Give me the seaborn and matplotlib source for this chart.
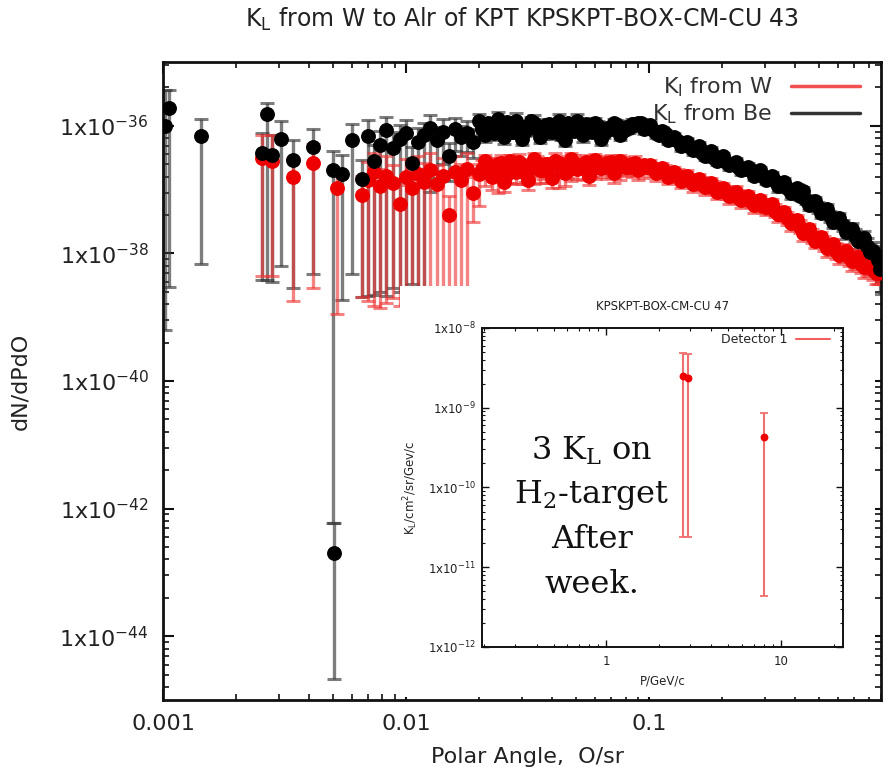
import numpy as np
import pandas as pd
import matplotlib
matplotlib.use("Agg")
import matplotlib.pyplot as plt
import matplotlib.ticker as mticker
from matplotlib.lines import Line2D
import seaborn as sns

# ------------------------------------------------------------------
# DATA (main plot) -- values stored as log10 exponents, errors in decades
# ------------------------------------------------------------------
be_early_x = [0.00102, 0.00106, 0.00143, 0.00255, 0.00268, 0.00281, 0.00306,
              0.00343, 0.00414, 0.00501, 0.00503, 0.00545, 0.00600]
be_early_log = [-36.00, -35.72, -36.16, -36.42, -35.81, -36.45, -36.20,
                -36.53, -36.33, -36.70, -42.70, -36.75, -36.22]
be_early_lo = [3.2, 2.8, 2.01, 2.0, 2.6, 2.0, 1.99, 2.02, 2.0, 5.53, 1.97, 1.98, 2.1]
be_early_hi = [0.56, 0.28, 0.27, 0.30, 0.17, 0.30, 0.28, 0.30, 0.28, 0.30, 0.47, 0.30, 0.25]

w_early_x = [0.00255, 0.00281, 0.00343, 0.00414, 0.00520]
w_early_log = [-36.50, -36.55, -36.80, -36.58, -36.97]
w_early_lo = [1.85, 1.80, 1.95, 1.97, 1.98]
w_early_hi = [0.36, 0.40, 0.30, 0.30, 0.30]

dense_x = [0.0066, 0.0070, 0.0074, 0.0078, 0.0083, 0.0088, 0.0094, 0.0100, 0.0106, 0.0112,
           0.0119, 0.0126, 0.0134, 0.0142, 0.0150, 0.0159, 0.0168, 0.0178, 0.0189, 0.0200,
           0.0212, 0.0225, 0.0238, 0.0252, 0.0267, 0.0283, 0.0300, 0.0318, 0.0337, 0.0357,
           0.0378, 0.0400, 0.0424, 0.0449, 0.0476, 0.0504, 0.0534, 0.0566, 0.0600, 0.0636,
           0.0674, 0.0714, 0.0756, 0.0801, 0.0849, 0.0900, 0.0954, 0.101, 0.107, 0.113,
           0.120, 0.127, 0.135, 0.143, 0.151, 0.160, 0.170, 0.180, 0.191, 0.202,
           0.214, 0.227, 0.240, 0.255, 0.270, 0.286, 0.303, 0.321, 0.340, 0.360,
           0.382, 0.405, 0.429, 0.454, 0.481, 0.510, 0.540, 0.573, 0.607, 0.643,
           0.681, 0.722, 0.765, 0.810, 0.858, 0.890]

be_dense_log = [-36.83, -36.16, -36.55, -36.30, -36.06, -36.35, -36.20, -36.11, -36.58, -36.25,
                -36.15, -36.03, -36.22, -36.10, -36.47, -36.05, -36.18, -36.11, -36.25, -35.93,
                -36.15, -36.00, -35.90, -36.18, -36.05, -35.92, -36.20, -36.02, -35.95, -36.17,
                -35.98, -36.10, -35.93, -36.22, -36.00, -35.92, -36.15, -36.05, -35.95, -36.20,
                -36.03, -35.96, -36.14, -36.02, -35.97, -35.95, -36.05, -35.98, -36.12, -36.08,
                -36.22, -36.18, -36.32, -36.25, -36.38, -36.32, -36.47, -36.40, -36.55, -36.48,
                -36.62, -36.56, -36.70, -36.64, -36.78, -36.70, -36.85, -36.78, -36.95, -36.88,
                -37.06, -36.98, -37.02, -37.24, -37.18, -37.36, -37.30, -37.50, -37.44, -37.66,
                -37.62, -37.80, -37.76, -37.98, -38.02, -38.25]
be_dense_lo = [1.85, 2.50, 2.10, 2.30, 2.60, 2.20, 2.40, 2.50, 1.90, 2.30,
               2.40, 1.00, 0.60, 0.50, 0.40, 0.35, 0.30, 0.30, 0.25, 0.12,
               0.10, 0.12, 0.15, 0.10, 0.12, 0.14, 0.10, 0.12, 0.15, 0.10,
               0.12, 0.10, 0.14, 0.10, 0.12, 0.15, 0.10, 0.12, 0.10, 0.10,
               0.10, 0.08, 0.08, 0.09, 0.08, 0.08, 0.08, 0.07, 0.07, 0.07,
               0.07, 0.07, 0.07, 0.07, 0.07, 0.07, 0.07, 0.07, 0.07, 0.07,
               0.07, 0.07, 0.07, 0.07, 0.07, 0.07, 0.07, 0.07, 0.08, 0.08,
               0.08, 0.08, 0.08, 0.08, 0.09, 0.09, 0.10, 0.10, 0.11, 0.11,
               0.12, 0.13, 0.15, 0.18, 0.22, 0.38]
be_dense_hi = [0.30, 0.25, 0.25, 0.22, 0.20, 0.25, 0.22, 0.20, 0.25, 0.22,
               0.20, 0.20, 0.20, 0.20, 0.20, 0.18, 0.18, 0.18, 0.18, 0.12,
               0.09, 0.10, 0.12, 0.08, 0.10, 0.12, 0.07, 0.10, 0.12, 0.07,
               0.09, 0.07, 0.11, 0.07, 0.08, 0.10, 0.07, 0.08, 0.07, 0.07,
               0.07, 0.07, 0.07, 0.07, 0.07, 0.07, 0.07, 0.06, 0.06, 0.06,
               0.06, 0.06, 0.06, 0.06, 0.06, 0.06, 0.06, 0.06, 0.06, 0.06,
               0.06, 0.06, 0.06, 0.06, 0.06, 0.06, 0.06, 0.06, 0.06, 0.06,
               0.06, 0.06, 0.06, 0.07, 0.07, 0.07, 0.08, 0.08, 0.08, 0.09,
               0.09, 0.10, 0.11, 0.12, 0.14, 0.18]

w_dense_log = [-37.08, -36.85, -36.72, -36.95, -36.78, -36.90, -37.23, -36.80, -36.97, -36.75,
               -36.88, -36.70, -36.92, -36.78, -37.40, -36.72, -36.85, -36.68, -37.05, -36.75,
               -36.55, -36.80, -36.60, -36.88, -36.55, -36.72, -36.62, -36.85, -36.52, -36.70,
               -36.60, -36.82, -36.58, -36.74, -36.52, -36.68, -36.60, -36.78, -36.54, -36.66,
               -36.58, -36.74, -36.55, -36.64, -36.60, -36.70, -36.62, -36.62, -36.74, -36.66,
               -36.80, -36.72, -36.86, -36.78, -36.92, -36.84, -36.96, -36.90, -37.03, -36.97,
               -37.10, -37.03, -37.17, -37.10, -37.24, -37.16, -37.28, -37.22, -37.38, -37.35,
               -37.53, -37.48, -37.68, -37.62, -37.80, -37.74, -37.92, -37.86, -38.02, -37.96,
               -38.12, -38.06, -38.22, -38.16, -38.30, -38.28]
w_dense_lo = [1.60, 1.90, 2.10, 1.90, 2.00, 1.80, 1.60, 2.00, 1.80, 2.00,
              1.90, 2.00, 1.80, 1.90, 1.20, 1.90, 1.80, 1.90, 0.45, 0.50,
              0.40, 0.20, 0.45, 0.15, 0.35, 0.20, 0.30, 0.15, 0.40, 0.20,
              0.30, 0.15, 0.40, 0.20, 0.35, 0.15, 0.25, 0.15, 0.30, 0.15,
              0.25, 0.15, 0.30, 0.15, 0.20, 0.15, 0.20, 0.12, 0.12, 0.12,
              0.12, 0.12, 0.12, 0.12, 0.12, 0.12, 0.12, 0.12, 0.12, 0.12,
              0.12, 0.12, 0.12, 0.12, 0.12, 0.12, 0.12, 0.12, 0.12, 0.12,
              0.12, 0.12, 0.12, 0.12, 0.12, 0.12, 0.13, 0.13, 0.14, 0.14,
              0.15, 0.15, 0.16, 0.17, 0.18, 0.20]
w_dense_hi = [0.30, 0.28, 0.30, 0.28, 0.30, 0.28, 0.30, 0.28, 0.30, 0.28,
              0.30, 0.28, 0.30, 0.28, 0.30, 0.25, 0.25, 0.25, 0.25, 0.15,
              0.10, 0.12, 0.10, 0.12, 0.10, 0.12, 0.10, 0.12, 0.10, 0.12,
              0.10, 0.12, 0.10, 0.12, 0.10, 0.10, 0.10, 0.10, 0.10, 0.10,
              0.10, 0.10, 0.09, 0.09, 0.09, 0.09, 0.09, 0.08, 0.08, 0.08,
              0.08, 0.08, 0.08, 0.08, 0.08, 0.08, 0.08, 0.08, 0.08, 0.08,
              0.08, 0.08, 0.08, 0.08, 0.08, 0.08, 0.08, 0.08, 0.08, 0.08,
              0.08, 0.08, 0.08, 0.08, 0.08, 0.08, 0.09, 0.09, 0.09, 0.10,
              0.10, 0.11, 0.12, 0.13, 0.14, 0.16]

# interleaved bins (finer sampling above 0.02)
fine_x = [0.0206, 0.0218, 0.0231, 0.0245, 0.0260, 0.0275, 0.0291, 0.0309, 0.0327, 0.0347,
          0.0367, 0.0389, 0.0412, 0.0436, 0.0462, 0.0490, 0.0519, 0.0550, 0.0583, 0.0618,
          0.0655, 0.0694, 0.0735, 0.0778, 0.0825, 0.0874, 0.0927, 0.0982, 0.104, 0.110,
          0.116, 0.123, 0.131, 0.139, 0.147, 0.155, 0.165, 0.175, 0.185, 0.196,
          0.208, 0.220, 0.233, 0.247, 0.262, 0.278, 0.294, 0.312, 0.330, 0.350,
          0.371, 0.393, 0.417, 0.441, 0.468, 0.495, 0.525, 0.556, 0.590, 0.625,
          0.662, 0.701, 0.743, 0.787, 0.834, 0.874]
be_fine_log = [-36.05, -35.95, -36.12, -36.02, -35.94, -36.10, -36.00, -36.08, -35.93, -36.05,
               -36.12, -35.97, -36.06, -36.14, -35.96, -36.08, -36.03, -35.97, -36.10, -36.00,
               -36.12, -36.05, -35.98, -36.08, -36.04, -35.98, -35.96, -36.02, -36.06, -36.14,
               -36.12, -36.20, -36.24, -36.28, -36.34, -36.36, -36.42, -36.45, -36.50, -36.52,
               -36.56, -36.60, -36.64, -36.68, -36.70, -36.75, -36.78, -36.82, -36.86, -36.92,
               -36.98, -37.04, -37.10, -37.16, -37.22, -37.28, -37.34, -37.42, -37.48, -37.56,
               -37.64, -37.72, -37.78, -37.88, -37.96, -38.10]
be_fine_err = [0.09, 0.07, 0.10, 0.08, 0.07, 0.09, 0.07, 0.08, 0.07, 0.08,
               0.08, 0.07, 0.07, 0.08, 0.07, 0.07, 0.07, 0.07, 0.07, 0.07,
               0.07, 0.07, 0.07, 0.07, 0.07, 0.07, 0.06, 0.06, 0.06, 0.06,
               0.06, 0.06, 0.06, 0.06, 0.06, 0.06, 0.06, 0.06, 0.06, 0.06,
               0.06, 0.06, 0.06, 0.06, 0.06, 0.06, 0.06, 0.06, 0.06, 0.06,
               0.06, 0.07, 0.07, 0.07, 0.07, 0.08, 0.08, 0.08, 0.09, 0.09,
               0.10, 0.10, 0.11, 0.12, 0.14, 0.18]
w_fine_log = [-36.68, -36.62, -36.72, -36.58, -36.76, -36.64, -36.56, -36.74, -36.66, -36.60,
              -36.70, -36.62, -36.55, -36.66, -36.70, -36.58, -36.64, -36.56, -36.68, -36.60,
              -36.64, -36.56, -36.66, -36.60, -36.64, -36.58, -36.64, -36.64, -36.68, -36.70,
              -36.72, -36.75, -36.78, -36.82, -36.85, -36.88, -36.91, -36.94, -36.97, -37.00,
              -37.04, -37.07, -37.11, -37.14, -37.18, -37.22, -37.25, -37.28, -37.33, -37.38,
              -37.45, -37.50, -37.58, -37.65, -37.72, -37.78, -37.84, -37.90, -37.96, -38.00,
              -38.06, -38.10, -38.16, -38.20, -38.26, -38.30]
w_fine_err = [0.14, 0.12, 0.15, 0.12, 0.14, 0.12, 0.12, 0.14, 0.12, 0.12,
              0.13, 0.12, 0.12, 0.13, 0.12, 0.12, 0.12, 0.11, 0.12, 0.11,
              0.11, 0.11, 0.11, 0.11, 0.11, 0.10, 0.10, 0.10, 0.10, 0.10,
              0.10, 0.10, 0.10, 0.10, 0.10, 0.10, 0.10, 0.10, 0.10, 0.10,
              0.10, 0.10, 0.10, 0.10, 0.10, 0.10, 0.10, 0.10, 0.10, 0.10,
              0.10, 0.10, 0.10, 0.11, 0.11, 0.11, 0.12, 0.12, 0.12, 0.13,
              0.13, 0.14, 0.14, 0.15, 0.16, 0.18]

main_title = "K$_\\mathregular{L}$ from W to Alr of KPT KPSKPT-BOX-CM-CU 43"
series_labels = ["K$_\\mathregular{l}$ from W", "K$_\\mathregular{L}$ from Be"]
y_major_exp = [-44, -42, -40, -38, -36]
x_major = [0.001, 0.01, 0.1]
x_major_labels = ["0.001", "0.01", "0.1"]

# ------------------------------------------------------------------
# DATA (inset)
# ------------------------------------------------------------------
inset_p = [2.76, 2.93, 8.0]
inset_val = [2.5e-9, 2.35e-9, 4.3e-10]
inset_low = [2.4e-11, 2.4e-11, 4.3e-12]
inset_high = [4.9e-9, 4.75e-9, 8.5e-10]
inset_y_exp = [-12, -11, -10, -9, -8]
inset_title = "KPSKPT-BOX-CM-CU 47"
inset_label = "Detector 1"
note_lines = ["3 K$_\\mathregular{L}$ on", "H$_\\mathregular{2}$-target", "After", "week."]

for arr in (be_dense_log, be_dense_lo, be_dense_hi, w_dense_log, w_dense_lo, w_dense_hi):
    assert len(arr) == len(dense_x), len(arr)
for arr in (be_fine_log, be_fine_err, w_fine_log, w_fine_err):
    assert len(arr) == len(fine_x), len(arr)


def build(xs, logs, lo, hi):
    xs = np.asarray(xs, float)
    logs = np.asarray(logs, float)
    y = 10.0 ** logs
    ylo = y - 10.0 ** (logs - np.asarray(lo, float))
    yhi = 10.0 ** (logs + np.asarray(hi, float)) - y
    return pd.DataFrame({"x": xs, "y": y, "elo": ylo, "ehi": yhi})


be_df = build(be_early_x + dense_x + fine_x, be_early_log + be_dense_log + be_fine_log,
              be_early_lo + be_dense_lo + be_fine_err, be_early_hi + be_dense_hi + be_fine_err)
w_df = build(w_early_x + dense_x + fine_x, w_early_log + w_dense_log + w_fine_log,
             w_early_lo + w_dense_lo + w_fine_err, w_early_hi + w_dense_hi + w_fine_err)

# ------------------------------------------------------------------
sns.set_style("ticks")
plt.rcParams["font.family"] = ["DejaVu Sans"]
plt.rcParams["mathtext.fontset"] = "dejavusans"
TXT = "#222222"

W, H = 888, 782
fig = plt.figure(figsize=(W / 100, H / 100), dpi=100)
fig.patch.set_facecolor("white")


def frac(x0, y0, x1, y1):
    return [x0 / W, 1 - y1 / H, (x1 - x0) / W, (y1 - y0) / H]


ax = fig.add_axes(frac(163, 62, 881, 700))
ax.set_xscale("log")
ax.set_yscale("log")

# error bars
ax.errorbar(be_df["x"], be_df["y"], yerr=[be_df["elo"], be_df["ehi"]], fmt="none",
            ecolor="#383838", alpha=0.65, elinewidth=2.4, capsize=5, capthick=2.2, zorder=2)
ax.errorbar(w_df["x"], w_df["y"], yerr=[w_df["elo"], w_df["ehi"]], fmt="none",
            ecolor="#ee3030", alpha=0.6, elinewidth=2.4, capsize=5, capthick=2.2, zorder=2.1)
sns.scatterplot(data=w_df, x="x", y="y", ax=ax, color="#ee0000", s=115,
                linewidth=0, legend=False, zorder=3)
sns.scatterplot(data=be_df, x="x", y="y", ax=ax, color="#000000", s=115,
                linewidth=0, legend=False, zorder=3.2)
ax.set_xlim(0.001, 0.9)
ax.set_ylim(1e-45, 1e-35)

# ticks
ax.xaxis.set_major_locator(mticker.FixedLocator(x_major))
ax.xaxis.set_major_formatter(mticker.FixedFormatter(x_major_labels))
ax.xaxis.set_minor_locator(mticker.LogLocator(base=10, subs=np.arange(2, 10), numticks=20))
ax.xaxis.set_minor_formatter(mticker.NullFormatter())
ymaj = [10.0 ** e for e in y_major_exp]
ax.yaxis.set_major_locator(mticker.FixedLocator(ymaj))
ax.yaxis.set_major_formatter(mticker.FixedFormatter(
    ["1x10$^{\\mathregular{%d}}$" % e for e in y_major_exp]))
yminor = []
for e in range(-46, -33, 2):
    for k in range(2, 10):
        yminor.append(10.0 ** (e - 2) * k * k)
ax.yaxis.set_minor_locator(mticker.FixedLocator(yminor))
ax.yaxis.set_minor_formatter(mticker.NullFormatter())
ax.tick_params(which="both", direction="in", top=True, right=True, colors="#111111",
               labelcolor=TXT, labelsize=16)
ax.tick_params(which="major", length=8, width=1.5)
ax.tick_params(which="minor", length=4.5, width=1.2)
ax.tick_params(axis="y", pad=10)
ax.tick_params(axis="x", pad=10)
for s in ax.spines.values():
    s.set_linewidth(2.0)
    s.set_color("#111111")

ax.set_title(main_title, fontsize=17, color=TXT, pad=25)
ax.set_xlabel("Polar Angle,  O/sr", fontsize=16, color=TXT)
ax.xaxis.set_label_coords(0.508, -0.074)
ax.set_ylabel("dN/dPdO", fontsize=16, color=TXT)
ax.yaxis.set_label_coords(-0.185, 0.5)

handles = [Line2D([], [], color="#f05050", lw=2.5), Line2D([], [], color="#333333", lw=2.5)]
leg = ax.legend(handles, series_labels, loc="upper right", bbox_to_anchor=(0.971, 0.979),
                frameon=False, markerfirst=False, fontsize=16, handlelength=3.1,
                handletextpad=0.85, labelspacing=0.15, borderaxespad=0, borderpad=0)
for t in leg.get_texts():
    t.set_color("#333333")

# ------------------------------------------------------------------
# white panel behind inset
bg = fig.add_axes(frac(400, 286, 875, 697), zorder=9)
bg.set_facecolor("white")
bg.set_xticks([])
bg.set_yticks([])
for s in bg.spines.values():
    s.set_visible(False)

ax_in = fig.add_axes(frac(482, 328, 843, 647), zorder=10)
ax_in.set_xscale("log")
ax_in.set_yscale("log")
ins_df = pd.DataFrame({"p": inset_p, "v": inset_val,
                       "lo": np.array(inset_val) - np.array(inset_low),
                       "hi": np.array(inset_high) - np.array(inset_val)})
ax_in.errorbar(ins_df["p"], ins_df["v"], yerr=[ins_df["lo"], ins_df["hi"]], fmt="none",
               ecolor="#f07070", elinewidth=1.5, capsize=3, capthick=1.3, zorder=2)
sns.scatterplot(data=ins_df, x="p", y="v", ax=ax_in, color="#ee0000", s=32,
                linewidth=0, legend=False, zorder=3)
ax_in.set_xlim(0.195, 22.6)
ax_in.set_ylim(1e-12, 1e-8)
ax_in.xaxis.set_major_locator(mticker.FixedLocator([1, 10]))
ax_in.xaxis.set_major_formatter(mticker.FixedFormatter(["1", "10"]))
ax_in.xaxis.set_minor_locator(mticker.LogLocator(base=10, subs=np.arange(2, 10), numticks=20))
ax_in.xaxis.set_minor_formatter(mticker.NullFormatter())
ax_in.yaxis.set_major_locator(mticker.FixedLocator([10.0 ** e for e in inset_y_exp]))
ax_in.yaxis.set_major_formatter(mticker.FixedFormatter(
    ["1x10$^{\\mathregular{%d}}$" % e for e in inset_y_exp]))
ax_in.yaxis.set_minor_locator(mticker.LogLocator(base=10, subs=np.arange(2, 10), numticks=20))
ax_in.yaxis.set_minor_formatter(mticker.NullFormatter())
ax_in.tick_params(which="both", direction="in", top=True, right=True, colors="#111111",
                  labelcolor=TXT, labelsize=8.5)
ax_in.tick_params(which="major", length=5, width=1.0)
ax_in.tick_params(which="minor", length=2.5, width=0.8)
ax_in.tick_params(axis="y", pad=4)
ax_in.tick_params(axis="x", pad=6)
for s in ax_in.spines.values():
    s.set_linewidth(1.4)
    s.set_color("#111111")
ax_in.set_title(inset_title, fontsize=8.5, color=TXT, pad=13)
ax_in.set_xlabel("P/GeV/c", fontsize=8.5, color=TXT)
ax_in.xaxis.set_label_coords(0.5, -0.085)
ax_in.set_ylabel("K$_\\mathregular{L}$/cm$^\\mathregular{2}$/sr/Gev/c", fontsize=8.5, color=TXT)
ax_in.yaxis.set_label_coords(-0.172, 0.5)
leg2 = ax_in.legend([Line2D([], [], color="#f06060", lw=1.5)], [inset_label],
                    loc="upper right", bbox_to_anchor=(0.964, 0.983), frameon=False,
                    markerfirst=False, fontsize=9, handlelength=2.7, handletextpad=0.7,
                    borderaxespad=0, borderpad=0)
for t in leg2.get_texts():
    t.set_color(TXT)

# big annotation
baselines = [460, 503, 548, 593]
for line, yb in zip(note_lines, baselines):
    fig.text(592 / W, 1 - yb / H, line, family="DejaVu Serif", fontsize=23,
             ha="center", va="baseline", color="#111111", zorder=30)

fig.savefig("out.png", dpi=100, facecolor="white")
